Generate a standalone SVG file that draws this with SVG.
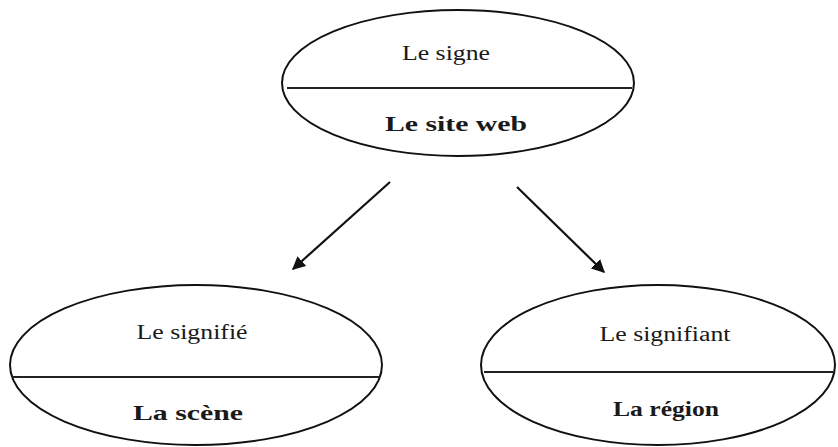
<svg xmlns="http://www.w3.org/2000/svg" width="838" height="447" viewBox="0 0 838 447">
<style>
.shape{fill:none;stroke:#111;stroke-width:2}
.div{stroke:#222;stroke-width:2}
.t{font-family:Tinos,"Liberation Serif","Noto Serif","DejaVu Serif",FreeSerif,"Times New Roman",Times,Georgia,serif;fill:#1a1a1a;text-anchor:middle}
.r{font-size:20px}
.b{font-size:21px;font-weight:bold}
.conn{stroke:#111;stroke-width:2.2;fill:none}
</style>
<defs>
<marker id="ah" viewBox="0 0 10 10" refX="9" refY="5" markerWidth="6" markerHeight="6" markerUnits="strokeWidth" orient="auto">
<path d="M0,0 L10,5 L0,10 Z" fill="#111"/>
</marker>
</defs>
<rect width="838" height="447" fill="#fff"/>
<g id="connectors">
<line class="conn" x1="390" y1="182" x2="293" y2="269" marker-end="url(#ah)"/>
<line class="conn" x1="517" y1="187" x2="604" y2="272" marker-end="url(#ah)"/>
</g>
<g id="signe">
<ellipse class="shape" cx="458" cy="83" rx="176" ry="73"/>
<line class="div" x1="287" y1="88" x2="632" y2="88"/>
<text class="t r" x="446" y="60" textLength="88" lengthAdjust="spacingAndGlyphs">Le signe</text>
<text class="t b" x="456" y="131" style="font-size:22px" textLength="142" lengthAdjust="spacingAndGlyphs">Le site web</text>
</g>
<g id="signifie">
<ellipse class="shape" cx="196" cy="365" rx="186" ry="80"/>
<line class="div" x1="12" y1="377" x2="380" y2="377"/>
<text class="t r" x="192" y="339" textLength="111" lengthAdjust="spacingAndGlyphs">Le signifié</text>
<text class="t b" x="188" y="420" textLength="110" lengthAdjust="spacingAndGlyphs">La scène</text>
</g>
<g id="signifiant">
<ellipse class="shape" cx="658" cy="365" rx="177" ry="80"/>
<line class="div" x1="484" y1="372" x2="835" y2="372"/>
<text class="t r" x="665" y="341" textLength="131" lengthAdjust="spacingAndGlyphs">Le signifiant</text>
<text class="t b" x="666" y="416" textLength="106" lengthAdjust="spacingAndGlyphs">La région</text>
</g>
</svg>
